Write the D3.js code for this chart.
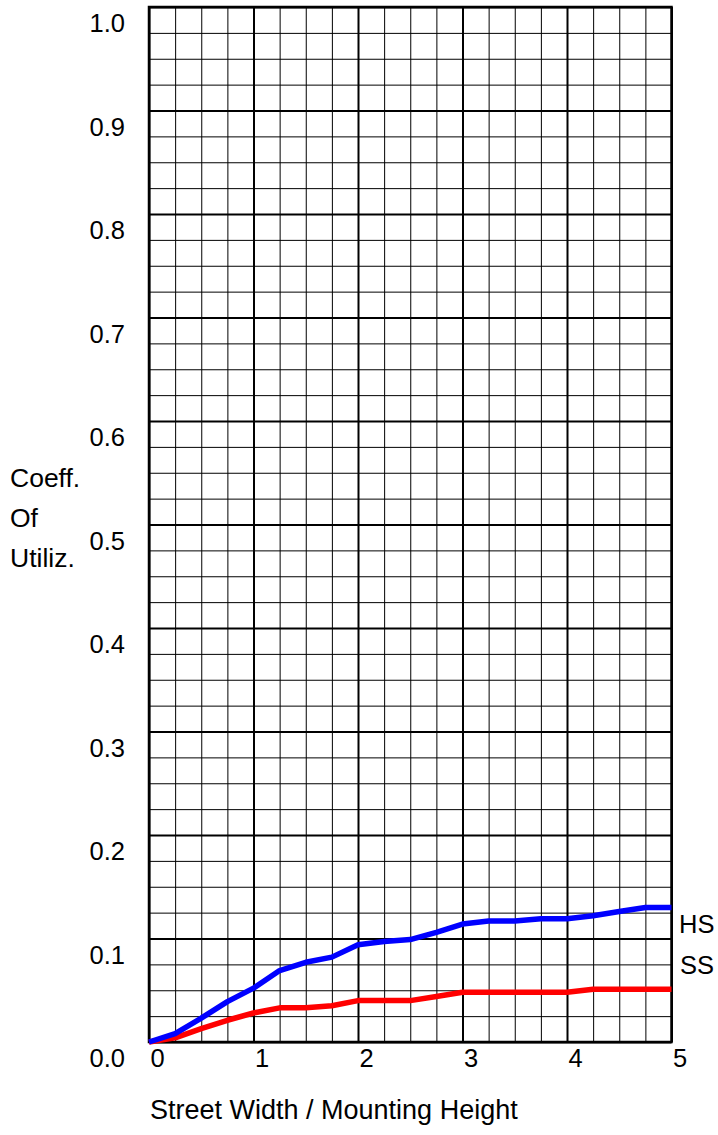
<!DOCTYPE html>
<html>
<head>
<meta charset="utf-8">
<script src="https://cdn.jsdelivr.net/npm/d3@7"></script>
<style>
  html, body { margin: 0; padding: 0; background: #fff; }
  svg { display: block; }
  text { font-family: "Liberation Sans", Arial, Helvetica, sans-serif; fill: #000; }
</style>
</head>
<body>
<svg id="chart" width="718" height="1135"></svg>
<script>
// ---- data ----
const ratio = [0, 0.25, 0.5, 0.75, 1, 1.25, 1.5, 1.75, 2, 2.25, 2.5, 2.75, 3, 3.25, 3.5, 3.75, 4, 4.25, 4.5, 4.75, 5];
const hsValues = [0, 0.008, 0.023, 0.039, 0.052, 0.069, 0.077, 0.082, 0.094, 0.097, 0.099, 0.106, 0.114, 0.117, 0.117, 0.119, 0.119, 0.122, 0.126, 0.130, 0.130];
const ssValues = [0, 0.004, 0.013, 0.021, 0.028, 0.033, 0.033, 0.035, 0.040, 0.040, 0.040, 0.044, 0.048, 0.048, 0.048, 0.048, 0.048, 0.051, 0.051, 0.051, 0.051];
const xTickLabels = [0, 1, 2, 3, 4, 5];
const yTickLabels = [0, 0.1, 0.2, 0.3, 0.4, 0.5, 0.6, 0.7, 0.8, 0.9, 1.0];
const seriesNames = ["HS", "SS"];
const yTitleLines = ["Coeff.", "Of", "Utiliz."];
const xTitle = "Street Width / Mounting Height";

(function () {
// ---- layout ----
const pLeft = 149, pRight = 671.5, pTop = 7, pBottom = 1042;
const svg = d3.select("#chart");
const x = d3.scaleLinear().domain([0, 5]).range([pLeft, pRight]);
const y = d3.scaleLinear().domain([0, 1]).range([pBottom, pTop]);

const minorX = d3.range(0, 5.001, 0.25);
const minorY = d3.range(0, 1.0001, 0.025);
const ff = '"Liberation Sans", Arial, sans-serif';

// minor grid
svg.append("g")
  .attr("transform", `translate(0,${pBottom})`)
  .call(d3.axisBottom(x).tickValues(minorX).tickSize(-(pBottom - pTop)).tickFormat(""))
  .call(g => g.select(".domain").remove())
  .call(g => g.selectAll("line").attr("stroke", "#000").attr("stroke-width", 1));
svg.append("g")
  .attr("transform", `translate(${pLeft},0)`)
  .call(d3.axisLeft(y).tickValues(minorY).tickSize(-(pRight - pLeft)).tickFormat(""))
  .call(g => g.select(".domain").remove())
  .call(g => g.selectAll("line").attr("stroke", "#000").attr("stroke-width", 1));

// major grid
svg.append("g")
  .attr("transform", `translate(0,${pBottom})`)
  .call(d3.axisBottom(x).tickValues(xTickLabels).tickSize(-(pBottom - pTop)).tickFormat(""))
  .call(g => g.select(".domain").remove())
  .call(g => g.selectAll("line").attr("stroke", "#000").attr("stroke-width", 2));
svg.append("g")
  .attr("transform", `translate(${pLeft},0)`)
  .call(d3.axisLeft(y).tickValues(yTickLabels).tickSize(-(pRight - pLeft)).tickFormat(""))
  .call(g => g.select(".domain").remove())
  .call(g => g.selectAll("line").attr("stroke", "#000").attr("stroke-width", 2));

// border
svg.append("rect")
  .attr("x", pLeft).attr("y", pTop)
  .attr("width", pRight - pLeft).attr("height", pBottom - pTop)
  .attr("fill", "none").attr("stroke", "#000").attr("stroke-width", 2.5);

// tick labels
svg.append("g")
  .attr("transform", `translate(${pLeft},0)`)
  .call(d3.axisLeft(y).tickValues(yTickLabels).tickSize(0).tickFormat(d3.format(".1f")))
  .call(g => g.select(".domain").remove())
  .call(g => g.selectAll("text")
    .attr("x", -24).attr("dy", null).attr("y", 24.5)
    .attr("font-size", 25.5).attr("text-anchor", "end")
    .attr("fill", "#000")
    .style("font-family", ff));

svg.append("g")
  .attr("transform", `translate(0,${pBottom})`)
  .call(d3.axisBottom(x).tickValues(xTickLabels).tickSize(0).tickFormat(d3.format("d")))
  .call(g => g.select(".domain").remove())
  .call(g => g.selectAll("text")
    .attr("x", 1).attr("dy", null).attr("y", 24.7)
    .attr("font-size", 25.5).attr("text-anchor", "start")
    .attr("fill", "#000")
    .style("font-family", ff));

// lines
const line = d3.line().x((d, i) => x(ratio[i])).y(d => y(d));
svg.append("path").datum(ssValues)
  .attr("d", line).attr("fill", "none").attr("stroke", "#ff0000")
  .attr("stroke-width", 5.5).attr("stroke-linejoin", "round");
svg.append("path").datum(hsValues)
  .attr("d", line).attr("fill", "none").attr("stroke", "#0000ff")
  .attr("stroke-width", 5.5).attr("stroke-linejoin", "round");

// series labels
svg.append("text").attr("x", 679).attr("y", 932.5).attr("font-size", 25.5).text(seriesNames[0]);
svg.append("text").attr("x", 680).attr("y", 973.5).attr("font-size", 25.5).text(seriesNames[1]);

// y title
svg.append("g").selectAll("text").data(yTitleLines).join("text")
  .attr("x", 10).attr("y", (d, i) => 487 + i * 40)
  .attr("font-size", 26.5).text(d => d);

// x title
svg.append("text").attr("x", 150).attr("y", 1119).attr("font-size", 27).text(xTitle);
})();
</script>
</body>
</html>
